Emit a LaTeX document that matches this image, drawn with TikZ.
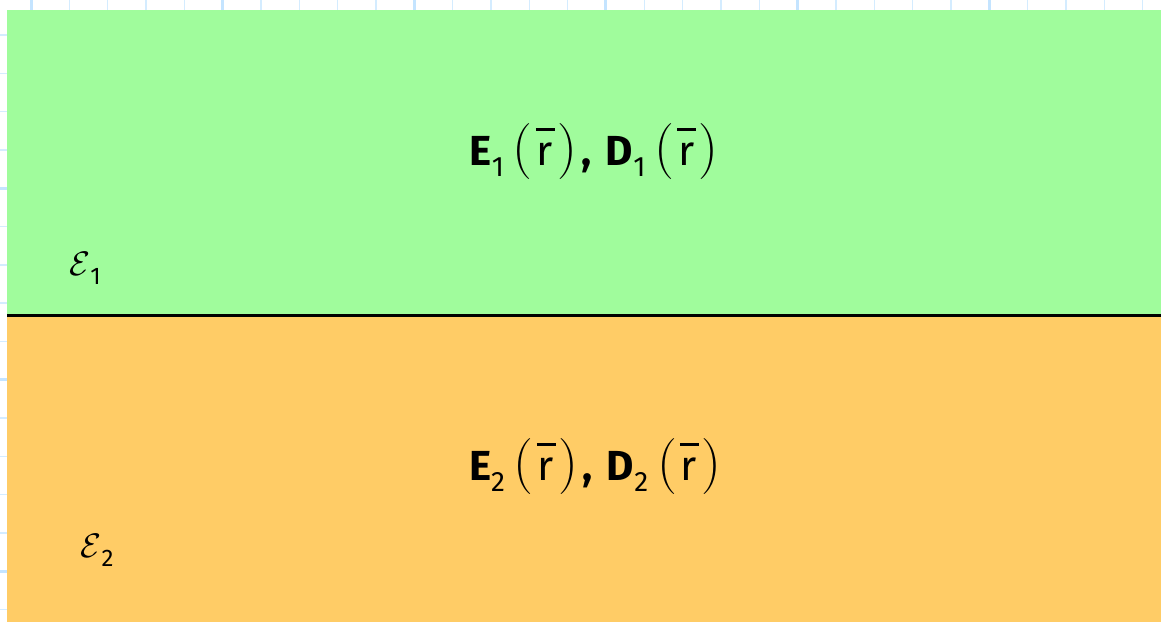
\documentclass[tikz,border=0pt]{standalone}
\usepackage{fontspec}
\usepackage{graphicx}
\setsansfont{Fira Sans}
\definecolor{greenreg}{RGB}{160,252,156}
\definecolor{orangereg}{RGB}{255,204,102}
\definecolor{gridthin}{RGB}{212,236,255}
\definecolor{gridthick}{RGB}{196,228,255}
\newcommand\myparen[1]{{\rmfamily\fontsize{56}{56}\selectfont #1}}
\newcommand\myrbar{\hspace{4pt}\rlap{\kern-1pt\raisebox{35pt}{\rule{19pt}{2.5pt}}}r\hspace{4pt}}
\newcommand\mysub[1]{\raisebox{-11pt}{\fontseries{m}\selectfont\fontsize{28}{28}\selectfont #1}}
\newcommand\fieldtext[1]{\textbf{E}\mysub{#1}\hspace{9pt}\myparen{(}\myrbar\myparen{)}\hspace{5pt}\textbf{,}\hspace{14pt}\textbf{D}\mysub{#1}\hspace{9pt}\myparen{(}\myrbar\myparen{)}}
\newcommand\epstext[1]{\scalebox{3.4}{$\mathcal{E}$}\raisebox{-9pt}{\sffamily\fontsize{24}{24}\selectfont #1}}
\tikzset{
  fieldlabel/.style={font=\sffamily\fontsize{42}{48}\selectfont, inner sep=0pt},
  epslabel/.style={inner sep=0pt},
  thingrid/.style={gridthin, line width=1.5pt},
  thickgrid/.style={gridthick, line width=3pt},
}
\begin{document}
\begin{tikzpicture}[x=1pt,y=-1pt]
\useasboundingbox (0,0) rectangle (1161,622);
\fill[white] (0,0) rectangle (1161,622);
% background grid
\foreach \k in {0,...,29}{
  \pgfmathsetmacro{\gx}{31+38.33*\k}
  \pgfmathtruncatemacro{\m}{mod(\k,5)}
  \ifnum\m=0 \draw[thickgrid] (\gx,0) -- (\gx,622); \else \draw[thingrid] (\gx,0) -- (\gx,622); \fi
}
\foreach \k in {0,...,15}{
  \pgfmathsetmacro{\gy}{35+38.3*\k}
  \pgfmathtruncatemacro{\m}{mod(\k,5)}
  \ifnum\m=4 \draw[thickgrid] (0,\gy) -- (1161,\gy); \else \draw[thingrid] (0,\gy) -- (1161,\gy); \fi
}
% regions
\fill[greenreg] (7,10) rectangle (1161,315.5);
\fill[orangereg] (7,315.5) rectangle (1161,622);
\coordinate (ifl) at (7,315.5);
\coordinate (ifr) at (1161,315.5);
\draw[line width=3.3pt] (ifl) -- (ifr);
% labels
\node[fieldlabel] (f1) at (594,152) {\fieldtext{1}};
\node[fieldlabel] (f2) at (595,467) {\fieldtext{2}};
\node[epslabel] (e1) at (85,268) {\epstext{1}};
\node[epslabel] (e2) at (97,550) {\epstext{2}};
\end{tikzpicture}
\end{document}
